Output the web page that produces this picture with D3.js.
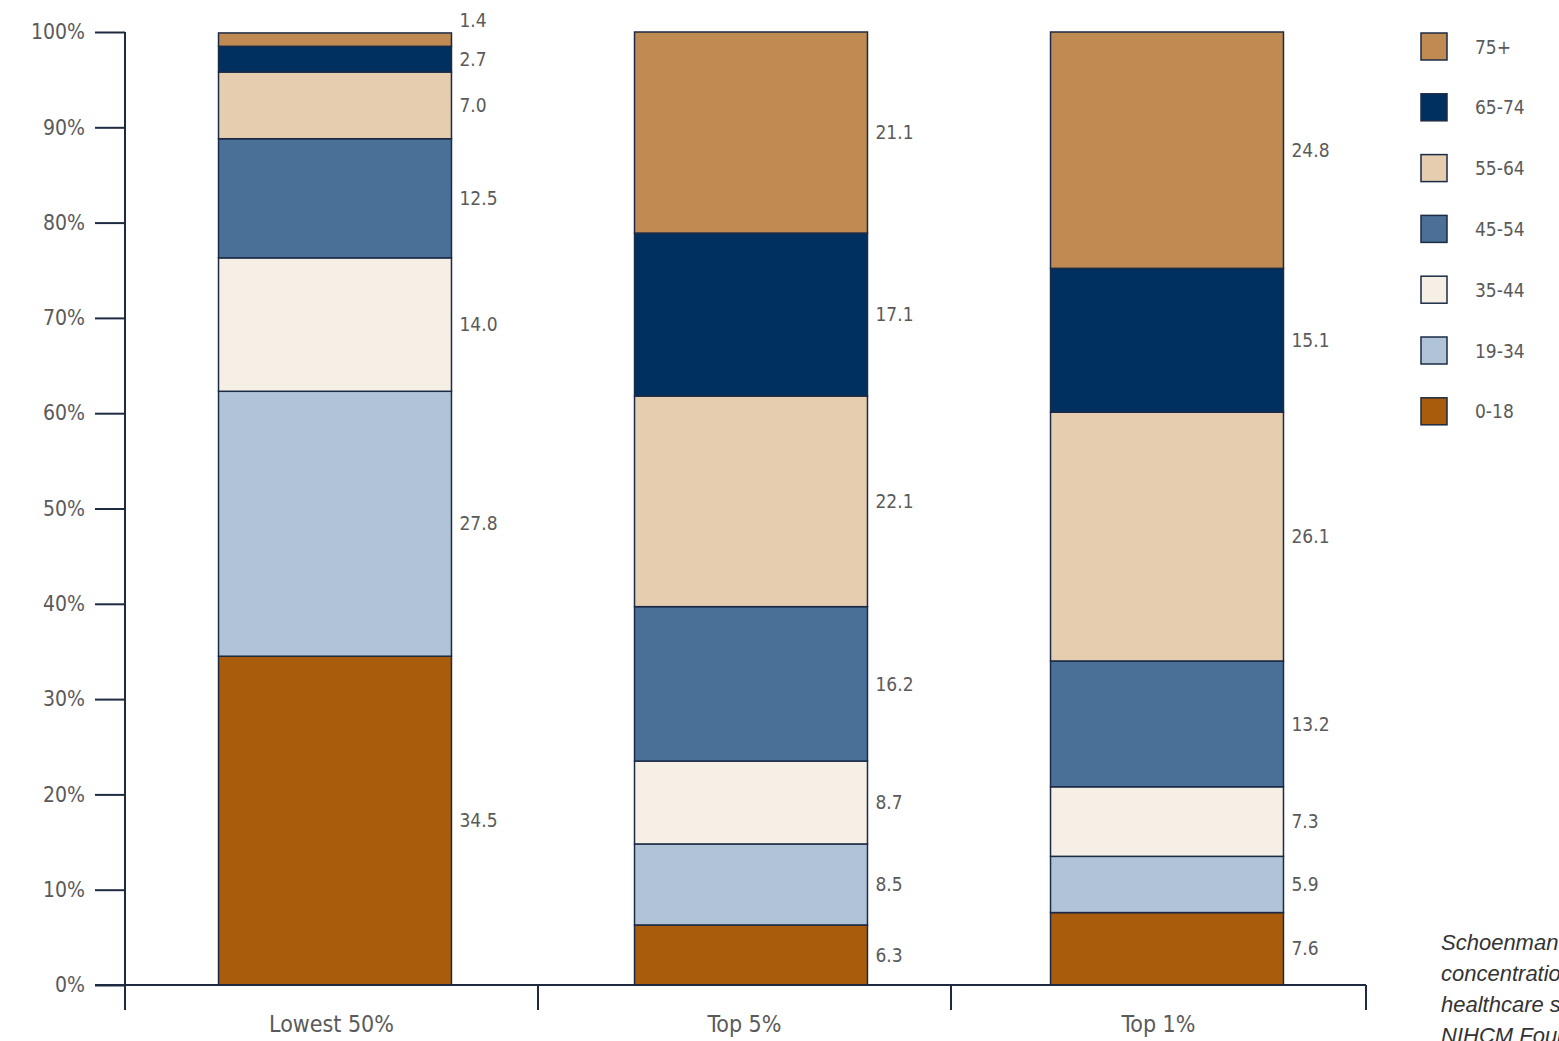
<!DOCTYPE html>
<html><head><meta charset="utf-8"><script src="https://d3js.org/d3.v7.min.js"></script></head>
<body style="margin:0;background:white;">
<script>
// data
groups=["Lowest 50%","Top 5%","Top 1%"];
ages=["0-18","19-34","35-44","45-54","55-64","65-74","75+"];
lowest50=[34.5,27.8,14.0,12.5,7.0,2.7,1.4];
top5=[6.3,8.5,8.7,16.2,22.1,17.1,21.1];
top1=[7.6,5.9,7.3,13.2,26.1,15.1,24.8];
yTicks=[0,10,20,30,40,50,60,70,80,90,100];
colors=["#a85c0c","#b1c4d7","#f6efe6","#4a7098","#e6cdb0","#00305f","#c08b52"];
sourceLines=["Schoenman JA. The","concentration of","healthcare spending.","NIHCM Foundation, 2012"];

var axisCol="#1e2a40", txtCol="#5a5a5a";
var font="'DejaVu Sans Condensed','Liberation Sans Narrow',sans-serif";

svg=d3.select("body").append("svg")
.attr("width",1559)
.attr("height",1041)
.style("display","block");

x=d3.scaleBand().domain(groups).range([127,1375]).paddingInner(0.44).paddingOuter(0.22);
y=d3.scaleLinear().domain([0,100]).range([985,32]);

// stack rows
rows=groups.map(function(g,i){
    var vals=[lowest50,top5,top1][i];
    var r={group:g};
    ages.forEach(function(a,j){r[a]=vals[j];});
    return r;
});
stack=d3.stack().keys(ages)(rows);

var layer=svg.selectAll("g.layer")
.data(stack)
.enter()
.append("g")
.attr("class","layer")
.attr("fill",function(d,i){return colors[i];});

layer.selectAll("rect")
.data(function(d){return d;})
.enter()
.append("rect")
.attr("x",function(d){return x(d.data.group);})
.attr("y",function(d){return y(Math.min(d[1],100));})
.attr("width",x.bandwidth())
.attr("height",function(d){return y(d[0])-y(Math.min(d[1],100));})
.attr("stroke","#1c2b45")
.attr("stroke-width",1.5);

// value labels
stack.forEach(function(s,i){
    s.forEach(function(d){
        var v=d[1]-d[0];
        var yy=y((d[0]+Math.min(d[1],100))/2);
        if(i==ages.length-1 && v<2) yy=y(100)-12;
        svg.append("text")
        .attr("x",x(d.data.group)+x.bandwidth()+8)
        .attr("y",yy)
        .attr("dy","0.35em")
        .attr("font-family",font)
        .attr("font-size",19)
        .attr("fill",txtCol)
        .text(v.toFixed(1));
    });
});

// y axis
yAxis=d3.axisLeft(y).tickValues(yTicks).tickSize(30).tickFormat(function(d){return d+"%";});
var ga=svg.append("g").attr("transform","translate(125,0)").call(yAxis);
ga.select(".domain").remove();
ga.selectAll("line").attr("stroke",axisCol).attr("stroke-width",2);
ga.selectAll("text").attr("font-family",font).attr("font-size",21).attr("fill",txtCol).attr("x",-40);
svg.append("line").attr("x1",125).attr("x2",125).attr("y1",y(100)).attr("y2",1010)
.attr("stroke",axisCol).attr("stroke-width",2);

// x axis
svg.append("line").attr("x1",95).attr("x2",1366).attr("y1",y(0)).attr("y2",y(0))
.attr("stroke",axisCol).attr("stroke-width",2);
bounds=[125,538,951,1366];
svg.selectAll("line.xt")
.data(bounds)
.enter()
.append("line")
.attr("class","xt")
.attr("x1",function(d){return d;})
.attr("x2",function(d){return d;})
.attr("y1",y(0))
.attr("y2",1010)
.attr("stroke",axisCol)
.attr("stroke-width",2);
svg.selectAll("text.cat")
.data(groups)
.enter()
.append("text")
.attr("class","cat")
.attr("x",function(d,i){return (bounds[i]+bounds[i+1])/2;})
.attr("y",1032)
.attr("text-anchor","middle")
.attr("font-family",font)
.attr("font-size",23)
.attr("fill",txtCol)
.text(function(d){return d;});

// legend
var leg=svg.selectAll("g.leg")
.data(ages.slice().reverse())
.enter()
.append("g")
.attr("class","leg")
.attr("transform",function(d,i){return "translate(1421,"+(33+i*60.8)+")";});
leg.append("rect")
.attr("width",26)
.attr("height",27)
.attr("fill",function(d){return colors[ages.indexOf(d)];})
.attr("stroke","#1c2b45")
.attr("stroke-width",1.5);
leg.append("text")
.attr("x",54)
.attr("y",14)
.attr("dy","0.35em")
.attr("font-family",font)
.attr("font-size",19)
.attr("fill",txtCol)
.text(function(d){return d;});

// source (runs off the right edge, as in the original)
svg.selectAll("text.src")
.data(sourceLines)
.enter()
.append("text")
.attr("class","src")
.attr("x",1441)
.attr("y",function(d,i){return 950+i*31;})
.attr("font-family","'Liberation Sans',Arial,sans-serif")
.attr("font-style","italic")
.attr("font-size",22)
.attr("fill","#333")
.text(function(d){return d;});
</script>
</body></html>
